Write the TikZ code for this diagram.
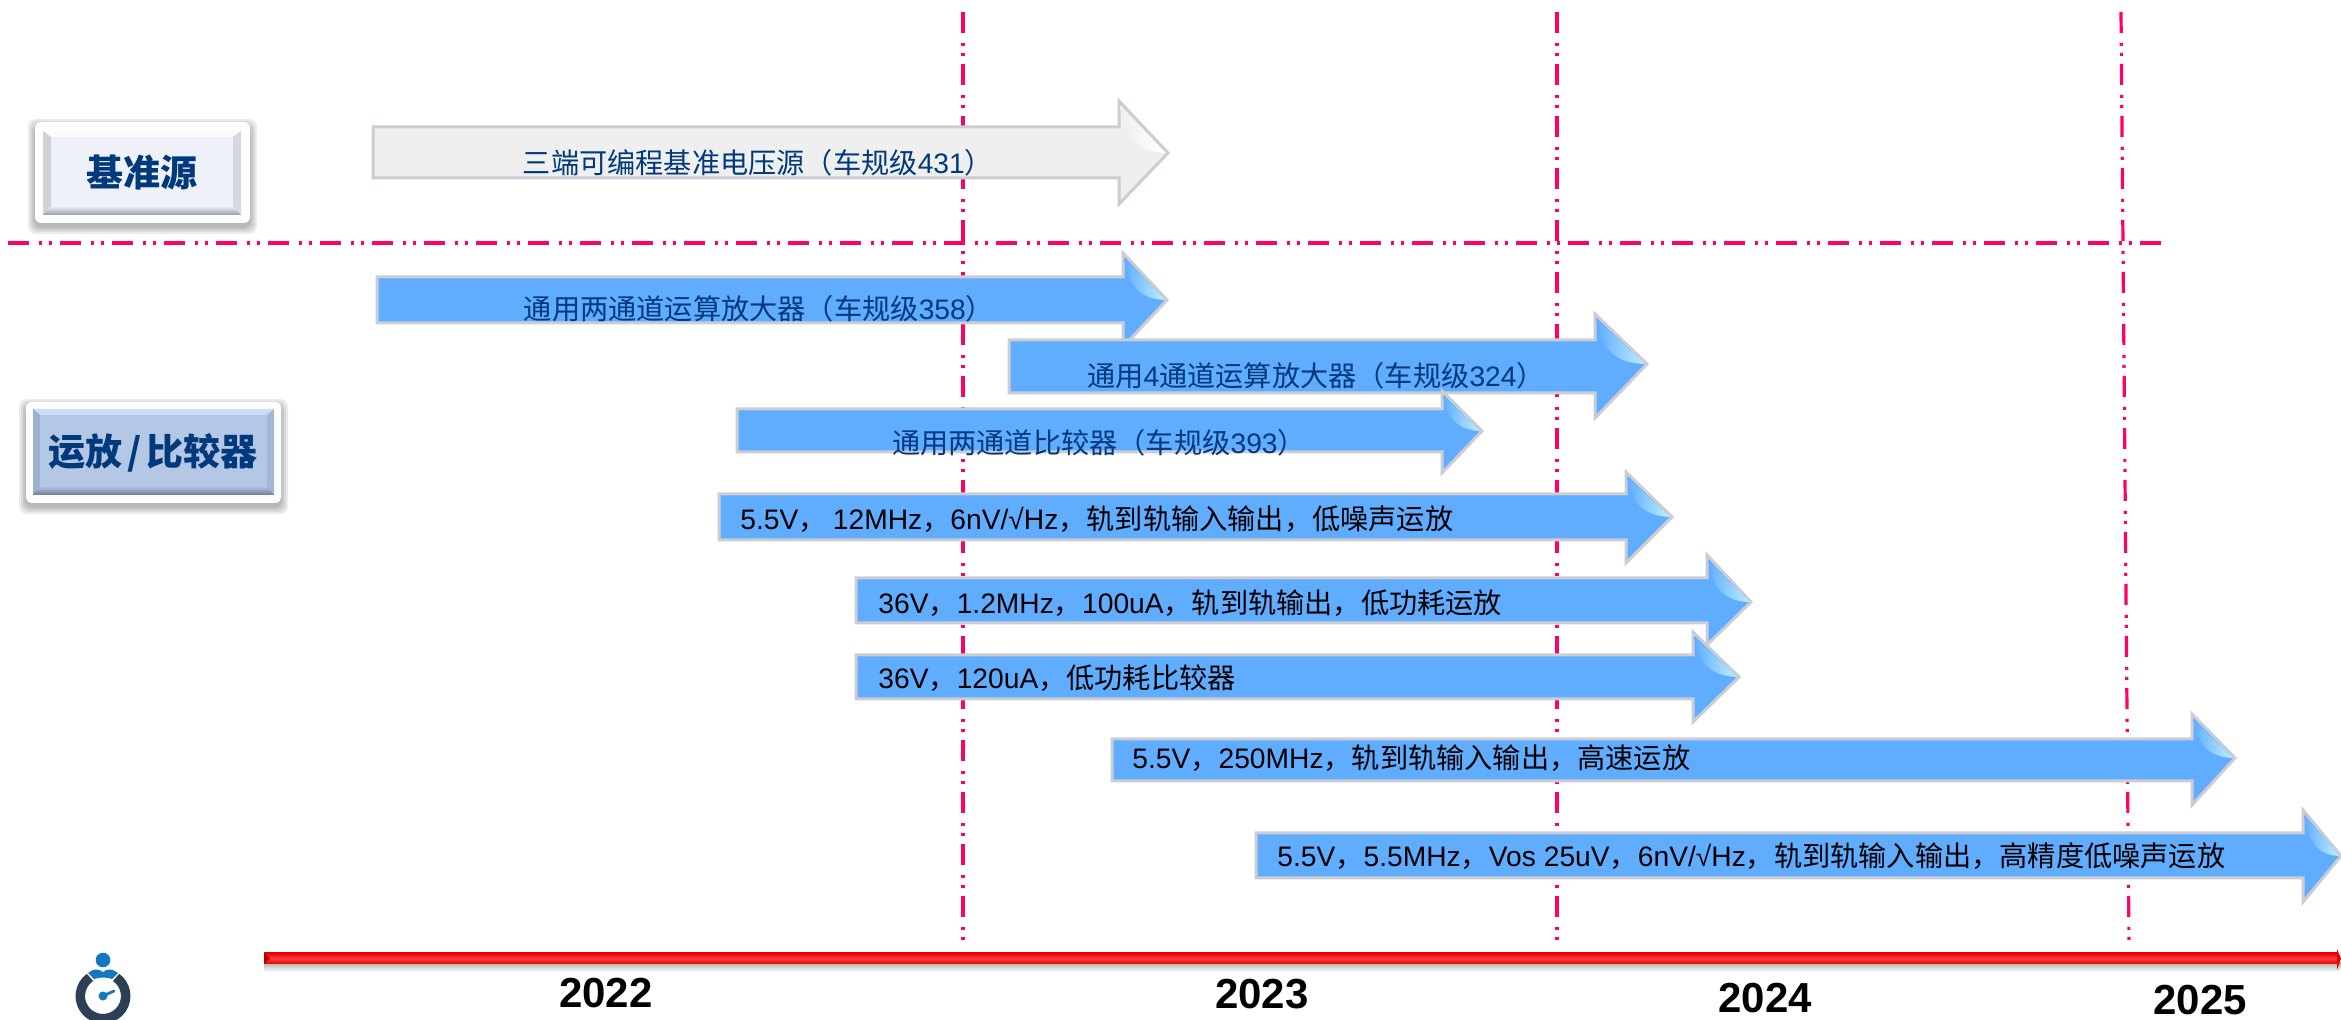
\documentclass[tikz,border=0pt]{standalone}
\usepackage{fontspec}
\setmainfont{Noto Sans CJK SC}
\newfontfamily\latn{Liberation Sans}
\definecolor{guide}{HTML}{FF0066}
\definecolor{navy}{HTML}{003A7C}
\definecolor{barblue}{HTML}{60ACFF}
\definecolor{barbluehi}{HTML}{BDF0FF}
\definecolor{bargray}{HTML}{EFEFEF}
\definecolor{bargrayhi}{HTML}{FFFFFF}
\definecolor{edgegray}{HTML}{CBCDD4}
\definecolor{aface}{HTML}{EEF2F8}
\definecolor{atop}{HTML}{F9FBFF}
\definecolor{aleft}{HTML}{CDD1D8}
\definecolor{aright}{HTML}{D5D8DE}
\definecolor{abottom}{HTML}{989CA6}
\definecolor{bface}{HTML}{B4C7E4}
\definecolor{btop}{HTML}{C9DDFB}
\definecolor{bleft}{HTML}{9DB0CF}
\definecolor{bright}{HTML}{A4B7D6}
\definecolor{bbottom}{HTML}{6D7D98}
\definecolor{axisred}{HTML}{E80000}
\definecolor{axishi}{HTML}{FF3A3A}
\definecolor{axisdark}{HTML}{B00000}
\definecolor{iconring}{HTML}{2D3F56}
\definecolor{iconblue}{HTML}{1478BE}
\newcommand{\la}[1]{{\latn #1}}
\newcommand{\barshape}[9]{%
  % #1 colour, #2 left, #3 top, #4 bottom, #5 head x, #6 head top, #7 tip, #8 tip y, #9 head bottom
  \filldraw[barline,fill=#1] (#2,#3) -- (#5,#3) -- (#5,#6) -- (#7,#8) -- (#5,#9) -- (#5,#4) -- (#2,#4) -- cycle;
  \shade[left color=#1,right color=#1hi]
    (#5+1,#6+5) -- (#7-2,#8) .. controls (#5*0.5+#7*0.5,#8-1) and (#5*0.85+#7*0.15,#8-8) .. (#5+1,#6+5) -- cycle;
}
\tikzset{
  x=0.5pt,y=-0.5pt,
  barline/.style={draw=edgegray,line width=1.5pt,miter limit=10},
  guideline/.style={draw=guide,line width=1.6pt,dash pattern=on 10.5pt off 5pt on 1.5pt off 3.5pt on 1.5pt off 4pt},
  darktext/.style={font=\fontsize{14.1}{16}\selectfont,text=navy,inner sep=0pt,anchor=center},
  blacktext/.style={font=\fontsize{14.1}{16}\selectfont,text=black,inner sep=0pt,anchor=west},
  yeartext/.style={font=\latn\bfseries\fontsize{21}{24}\selectfont,text=black,inner sep=0pt},
  buttontext/.style={font=\bfseries\fontsize{18.5}{22}\selectfont,text=navy,inner sep=0pt},
}
\begin{document}
\begin{tikzpicture}
\useasboundingbox (0,0) rectangle (2341,1020);
\clip (0,0) rectangle (2341,1020);

% guides
\draw[guideline] (963,12) -- (963,945);
\draw[guideline] (1557,12) -- (1557,945);
\draw[guideline] (2121,12) -- (2129,945);
\draw[guideline] (8,243) -- (2168,243);

% buttons: base source
\foreach \g in {7,5,3,1}{
  \fill[black,opacity=0.08,rounded corners=4pt] (35-\g,122-\g+4) rectangle (250+\g,223+\g+4);
}
\fill[white,rounded corners=3pt] (35,122) rectangle (250,223);
\fill[aface] (43,131) rectangle (241,215);
\fill[atop] (43,131) -- (241,131) -- (233,137) -- (51,137) -- cycle;
\fill[aleft] (43,131) -- (51,137) -- (51,208) -- (43,215) -- cycle;
\fill[aright] (241,131) -- (233,137) -- (233,208) -- (241,215) -- cycle;
\shade[top color=aface,bottom color=abottom] (51,206) -- (233,206) -- (241,215) -- (43,215) -- cycle;
\node[buttontext] (srclabel) at (142,173) {基准源};

% buttons: op amp / comparator
\foreach \g in {7,5,3,1}{
  \fill[black,opacity=0.08,rounded corners=4pt] (26-\g,402-\g+4) rectangle (281+\g,503+\g+4);
}
\fill[white,rounded corners=3pt] (26,402) rectangle (281,503);
\fill[bface] (33,409) rectangle (274,495);
\fill[btop] (33,409) -- (274,409) -- (267,415) -- (40,415) -- cycle;
\fill[bleft] (33,409) -- (40,415) -- (40,488) -- (33,495) -- cycle;
\fill[bright] (274,409) -- (267,415) -- (267,488) -- (274,495) -- cycle;
\shade[top color=bface,bottom color=bbottom] (40,486) -- (267,486) -- (274,495) -- (33,495) -- cycle;
\node[buttontext] (amplabel) at (153,453) {运放\kern2.5pt/\kern2.5pt比较器};

% bars
\barshape{bargray}{373}{127}{178}{1119}{101}{1168}{153}{204}
\node[darktext] (b1) at (758,163) {三端可编程基准电压源（车规级\la{431}）};
\barshape{barblue}{377}{277}{323}{1123}{253}{1167}{300}{347}
\node[darktext] (b2) at (759,309) {通用两通道运算放大器（车规级\la{358}）};
\barshape{barblue}{1009}{340}{393}{1595}{314}{1647}{364}{418}
\node[darktext] (b3) at (1316,376) {通用\la{4}通道运算放大器（车规级\la{324}）};
\barshape{barblue}{737}{409}{452}{1442}{391}{1482}{431}{473}
\node[darktext] (b4) at (1099,443) {通用两通道比较器（车规级\la{393}）};
\barshape{barblue}{719}{494}{540}{1626}{472}{1672}{517}{563}
\node[blacktext] (b5) at (740,519) {\la{5.5V}， \la{12MHz}，\la{6nV/√Hz}，轨到轨输入输出，低噪声运放};
\barshape{barblue}{856}{578}{623}{1707}{555}{1751}{602}{645}
\node[blacktext] (b6) at (878,603) {\la{36V}，\la{1.2MHz}，\la{100uA}，轨到轨输出，低功耗运放};
\barshape{barblue}{856}{655}{699}{1693}{632}{1739}{677}{722}
\node[blacktext] (b7) at (878,678) {\la{36V}，\la{120uA}，低功耗比较器};
\barshape{barblue}{1112}{739}{781}{2192}{714}{2235}{758}{805}
\node[blacktext] (b8) at (1132,758) {\la{5.5V}，\la{250MHz}，轨到轨输入输出，高速运放};
\barshape{barblue}{1256}{833}{878}{2303}{810}{2341}{856}{902}
\node[blacktext] (b9) at (1277,856) {\la{5.5V}，\la{5.5MHz}，\la{Vos 25uV}，\la{6nV/√Hz}，轨到轨输入输出，高精度低噪声运放};

% time axis
\shade[top color=gray!60,bottom color=white] (264,963) rectangle (2341,972);
\shade[top color=axisred,bottom color=axisred,middle color=axishi] (264,953) rectangle (2337,964);
\fill[axisdark] (264,953) -- (270,958.5) -- (264,964) -- cycle;
\fill[axisred] (2337,949) -- (2341,958.5) -- (2337,970) -- cycle;

% years
\node[yeartext] (y22) at (606,993) {2022};
\node[yeartext] (y23) at (1262,994) {2023};
\node[yeartext] (y24) at (1765,998) {2024};
\node[yeartext] (y25) at (2200,1000) {2025};

% icon (y axis points down, so angles run clockwise on the page)
\draw[iconring,line width=4.75pt] (103+22.7*0.574,996-22.7*0.819) arc[start angle=-55,end angle=235,radius=22.7];
\fill[iconblue] (103,960) circle[radius=7.3];
\fill[iconblue] (88,973) .. controls (93,969) and (98,968) .. (103,972) .. controls (108,968) and (113,969) .. (118,973) -- (112,979) .. controls (106,977) and (100,977) .. (94,979) -- cycle;
\fill[iconblue] (103,996) circle[radius=4.5];
\draw[iconblue,line width=1.4pt,line cap=round] (103,996) -- (114,991);
\end{tikzpicture}
\end{document}
